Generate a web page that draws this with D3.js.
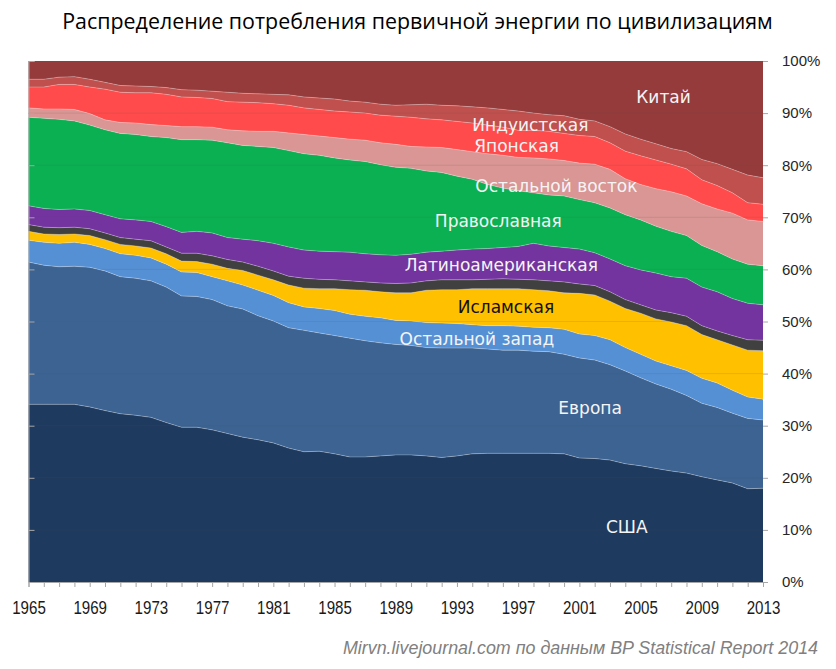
<!DOCTYPE html>
<html><head><meta charset="utf-8">
<script src="https://cdn.jsdelivr.net/npm/d3@7/dist/d3.min.js"></script>
<style>body{margin:0;background:#fff} svg{display:block}
.xlab{transform-box:fill-box;transform-origin:center;transform:scaleX(0.84)}</style>
</head><body><svg id="chart" width="836" height="669"></svg>
<script>
// ---------- DATA ----------
const years = [1965,1966,1967,1968,1969,1970,1971,1972,1973,1974,1975,1976,1977,1978,1979,1980,1981,1982,1983,1984,1985,1986,1987,1988,1989,1990,1991,1992,1993,1994,1995,1996,1997,1998,1999,2000,2001,2002,2003,2004,2005,2006,2007,2008,2009,2010,2011,2012,2013];
const xTickLabels = ["1965","1969","1973","1977","1981","1985","1989","1993","1997","2001","2005","2009","2013"];
const yTickValues = [0,0.1,0.2,0.3,0.4,0.5,0.6,0.7,0.8,0.9,1];
const yTickLabels = ["0%","10%","20%","30%","40%","50%","60%","70%","80%","90%","100%"];

// shares of world primary energy consumption, % (bottom to top)
const usa      = [34.1,34.1,34.1,34.1,33.6,32.9,32.3,32.0,31.6,30.6,29.7,29.7,29.2,28.5,27.8,27.3,26.7,25.7,25.0,25.1,24.6,24.0,24.0,24.2,24.4,24.4,24.2,23.9,24.2,24.6,24.7,24.7,24.7,24.7,24.7,24.6,23.8,23.7,23.4,22.7,22.3,21.8,21.3,20.9,20.2,19.6,19.0,17.9,18.0];
const europe   = [27.3,26.7,26.4,26.5,26.8,26.8,26.3,26.3,26.2,26.0,25.2,25.1,25.0,24.5,24.6,23.8,23.4,23.1,23.3,22.7,22.7,22.8,22.3,21.7,21.2,21.0,20.8,21.0,20.7,20.3,20.0,19.8,19.8,19.6,19.5,19.1,19.2,18.9,18.3,17.8,16.9,16.2,15.7,14.9,14.1,13.9,13.4,13.5,13.1];
const restWest = [4.2,4.4,4.5,4.6,4.4,4.3,4.4,4.4,4.4,4.4,4.6,4.6,4.4,4.8,4.6,4.9,4.9,4.8,4.5,4.7,4.8,4.6,4.7,4.8,4.6,4.7,4.8,4.8,4.7,4.5,4.5,4.7,4.6,4.6,4.6,4.8,4.6,4.7,4.8,4.5,4.5,4.4,4.5,4.8,4.8,4.7,4.4,4.1,4.0];
const islamic  = [1.7,1.6,1.7,1.6,1.7,1.7,1.8,1.8,1.9,2.0,2.1,2.1,2.4,2.4,2.8,2.9,3.0,3.4,3.6,3.8,4.2,4.7,5.0,5.0,5.3,5.4,6.2,6.4,6.5,6.9,7.1,7.1,7.2,7.2,7.1,7.0,7.8,7.8,7.4,7.5,7.9,8.1,8.4,8.6,8.4,8.3,8.7,9.0,9.3];
const other    = [1.3,1.3,1.3,1.3,1.3,1.3,1.3,1.3,1.4,1.3,1.5,1.6,1.6,1.7,1.6,1.7,1.7,1.7,1.9,1.8,1.7,1.7,1.6,1.7,1.8,1.9,1.8,1.9,1.9,1.7,1.8,1.9,1.8,1.9,1.9,2.1,1.8,1.8,1.8,1.7,1.6,1.7,1.8,1.8,1.7,1.7,1.8,2.0,2.0];
const latin    = [3.6,3.6,3.5,3.5,3.5,3.5,3.6,3.7,3.7,3.9,4.0,4.2,4.4,4.2,4.4,4.9,5.3,5.6,5.4,5.4,5.4,5.5,5.4,5.4,5.4,5.5,5.5,5.5,5.7,5.9,5.9,6.0,6.3,7.0,6.7,6.6,6.7,6.3,6.3,6.5,6.7,7.1,6.9,7.3,7.4,7.5,7.1,7.0,6.8];
const orthodox = [17.0,17.3,17.3,16.9,16.4,16.3,16.4,16.4,16.3,17.1,17.8,17.6,17.8,18.2,18.0,18.1,18.4,18.5,18.5,18.4,18.0,17.7,17.7,17.3,16.9,16.5,15.6,15.1,14.2,13.4,12.3,11.4,10.7,9.7,9.8,9.9,9.5,9.6,9.8,9.8,9.6,9.0,8.7,8.2,8.0,7.7,7.6,7.5,7.5];
const restEast = [1.8,1.8,2.0,2.2,2.2,1.9,2.1,2.2,2.3,2.3,2.5,2.5,2.5,2.5,2.8,2.9,3.1,3.4,3.7,3.7,3.9,4.0,4.1,4.2,4.4,4.2,4.6,4.8,5.1,5.3,5.9,6.3,6.4,6.7,6.9,6.8,7.0,7.4,7.4,6.9,6.8,7.2,7.6,7.6,8.0,8.2,8.8,8.5,8.5];
const japan    = [4.0,4.2,4.7,4.8,5.1,5.9,5.8,5.8,6.1,6.0,5.7,5.6,5.5,5.4,5.5,5.5,5.3,5.3,5.1,5.1,5.1,5.2,5.2,5.3,5.4,5.6,5.4,5.3,5.4,5.5,5.5,5.4,5.2,5.3,5.3,5.2,5.3,5.3,5.1,5.3,5.5,5.5,5.3,5.2,4.6,4.5,3.9,3.3,3.3];
const hindu    = [1.5,1.5,1.4,1.5,1.5,1.3,1.3,1.3,1.2,1.3,1.4,1.4,1.4,1.8,1.7,1.7,1.8,2.0,2.1,2.2,2.3,2.1,2.1,2.1,2.1,2.4,2.8,2.8,3.0,3.1,3.3,3.4,3.7,3.3,3.2,3.4,3.1,3.0,3.1,3.3,3.2,3.1,3.0,3.3,3.9,4.2,4.5,5.3,5.1];
const china    = [3.5,3.5,3.1,3.0,3.5,4.1,4.7,4.8,4.9,5.1,5.5,5.6,5.8,6.0,6.2,6.3,6.4,6.5,6.9,7.1,7.3,7.7,7.9,8.3,8.5,8.4,8.3,8.5,8.6,8.8,9.0,9.3,9.6,10.0,10.3,10.5,11.2,11.5,12.6,14.0,15.0,15.9,16.8,17.4,18.9,19.7,20.8,21.9,22.4];

const seriesKeys  = ["usa","europe","restWest","islamic","other","latin","orthodox","restEast","japan","hindu","china"];
const seriesNames = ["США","Европа","Остальной запад","Исламская","","Латиноамериканская","Православная","Остальной восток","Японская","Индуистская","Китай"];
const seriesData  = {usa, europe, restWest, islamic, other, latin, orthodox, restEast, japan, hindu, china};

// ---------- STYLE / LAYOUT ----------
const colors = {usa:"#1e3a5f", europe:"#3c6392", restWest:"#5690d4", islamic:"#ffc000", other:"#404040",
  latin:"#7334a0", orthodox:"#0bb052", restEast:"#d99694", japan:"#ff4b4b", hindu:"#c0504d", china:"#953b3b"};
// label anchors in data space: [year, share]
const labelAnchors = {china:[2006.5,0.931], hindu:[1997.8,0.877], japan:[1996.9,0.837], restEast:[1999.5,0.760],
  orthodox:[1995.7,0.693], latin:[1995.9,0.608], islamic:[1996.2,0.528], restWest:[1994.3,0.466],
  europe:[2001.7,0.334], usa:[2004.1,0.106]};

const W = 836, H = 669;
const plot = {left:28.5, right:763, top:61, bottom:582};

const svg = d3.select("#chart");

const table = years.map((yr,i) => {
  const row = {year: yr};
  seriesKeys.forEach(k => row[k] = seriesData[k][i]);
  return row;
});

const stack = d3.stack().keys(seriesKeys).offset(d3.stackOffsetExpand);
const layers = stack(table);

const x = d3.scaleLinear().domain([1965, 2013]).range([plot.left, plot.right]);
const y = d3.scaleLinear().domain([0, 1]).range([plot.bottom, plot.top]);

const area = d3.area().x(d => x(d.data.year)).y0(d => y(d[0])).y1(d => y(d[1]));
const topLine = d3.line().x(d => x(d.data.year)).y(d => y(d[1]));

svg.append("g").selectAll("path").data(layers).join("path")
  .attr("d", area).attr("fill", d => colors[d.key]);

svg.append("g").selectAll("path").data(layers.slice(0, -1)).join("path")
  .attr("d", topLine).attr("fill","none")
  .attr("stroke","rgba(255,255,255,0.35)").attr("stroke-width",0.8);

// gridlines
svg.append("g").selectAll("line").data(yTickValues.slice(1, -1)).join("line")
  .attr("x1", plot.left).attr("x2", plot.right)
  .attr("y1", d => y(d)).attr("y2", d => y(d))
  .attr("stroke","rgba(90,90,90,0.15)").attr("stroke-width",1);

// left axis line with inner ticks
const leftAxis = d3.axisRight(y).tickValues(yTickValues).tickSize(6).tickFormat("");
const gl = svg.append("g").attr("transform", `translate(${plot.left},0)`).call(leftAxis);
gl.select(".domain").attr("stroke","#a6a6a6");
gl.selectAll(".tick line").attr("stroke","#a6a6a6");

// right axis with labels
const rightAxis = d3.axisRight(y).tickValues(yTickValues).tickSize(5).tickPadding(14)
  .tickFormat((d,i) => yTickLabels[i]);
const gr = svg.append("g").attr("transform", `translate(${plot.right},0)`).call(rightAxis);
gr.select(".domain").remove();
gr.selectAll(".tick line").attr("stroke","#a6a6a6");
gr.selectAll(".tick text").attr("font-family","'Liberation Sans', Arial, sans-serif")
  .attr("font-size", 15).attr("fill","#262626");

// bottom axis
const bottomTicks = d3.axisBottom(x).tickValues(years).tickSize(5).tickFormat("");
const gb = svg.append("g").attr("transform", `translate(0,${plot.bottom})`).call(bottomTicks);
gb.select(".domain").attr("stroke","#a6a6a6");
gb.selectAll(".tick line").attr("stroke","#a6a6a6");

const bottomLabels = d3.axisBottom(x).tickValues(xTickLabels.map(Number)).tickSize(0).tickPadding(19)
  .tickFormat((d,i) => xTickLabels[i]);
const gbl = svg.append("g").attr("transform", `translate(0,${plot.bottom})`).call(bottomLabels);
gbl.select(".domain").remove();
gbl.selectAll(".tick text").attr("class","xlab")
  .attr("font-family","'Liberation Sans Narrow', 'Liberation Sans', Arial, sans-serif")
  .attr("font-size", 18).attr("fill","#1a1a1a");

// series labels
svg.append("g").selectAll("text").data(seriesKeys.filter(k => labelAnchors[k])).join("text")
  .attr("x", k => x(labelAnchors[k][0])).attr("y", k => y(labelAnchors[k][1]))
  .attr("dy","0.36em").attr("text-anchor","middle")
  .attr("font-family","'DejaVu Sans', Verdana, sans-serif").attr("font-size",17)
  .attr("fill", k => k === "islamic" ? "#111" : "#f4f4f4")
  .text(k => seriesNames[seriesKeys.indexOf(k)]);

function fitWidth(sel, target) {
  const w = sel.node().getComputedTextLength();
  const fs = parseFloat(sel.attr("font-size"));
  sel.attr("font-size", (fs * target / w).toFixed(2));
}

// title
const title = svg.append("text").attr("x", 417.5).attr("y", 29).attr("text-anchor","middle")
  .attr("font-family","'Open Sans', 'Noto Sans', sans-serif").attr("font-size",19).attr("fill","#000")
  .text("Распределение потребления первичной энергии по цивилизациям");
fitWidth(title, 711);

// source
const src = svg.append("text").attr("x", 818).attr("y", 654).attr("text-anchor","end")
  .attr("font-family","'Liberation Sans', Arial, sans-serif").attr("font-style","italic")
  .attr("font-size",16).attr("fill","#808080")
  .text("Mirvn.livejournal.com по данным BP Statistical Report 2014");
fitWidth(src, 475);
</script>
</body></html>
